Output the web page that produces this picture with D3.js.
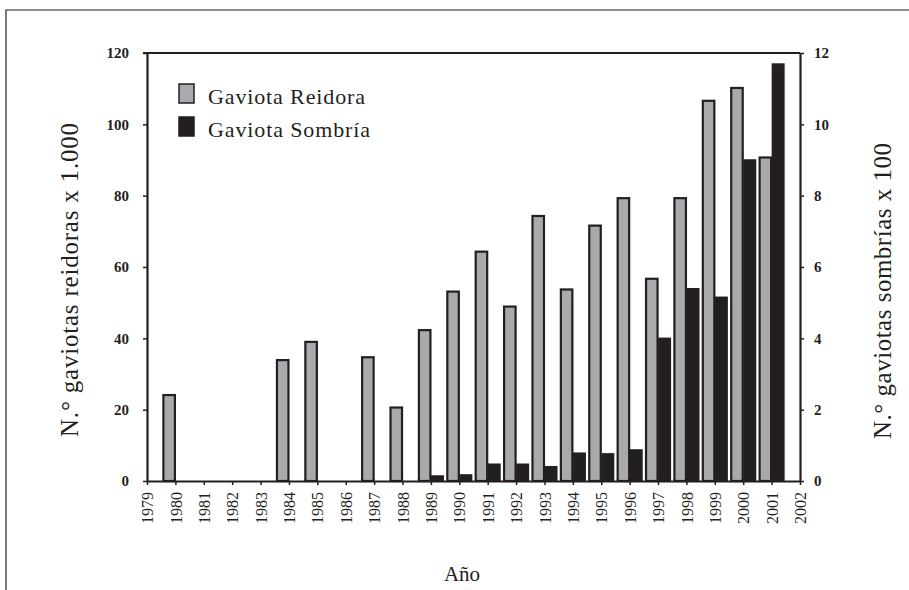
<!DOCTYPE html>
<html>
<head>
<meta charset="utf-8">
<script src="https://cdn.jsdelivr.net/npm/d3@7"></script>
<style>
  body { margin: 0; background: #fff; }
  .axis path, .axis line { stroke: #231f20; }
</style>
</head>
<body>
<div id="vis"></div>
<script>
// data
const years = d3.range(1979, 2003); // tick labels 1979..2002
const reidoraYears = [1980, 1984, 1985, 1987, 1988, 1989, 1990, 1991, 1992, 1993, 1994, 1995, 1996, 1997, 1998, 1999, 2000, 2001];
const reidoraValues = [24.1, 33.9, 39, 34.7, 20.6, 42.3, 53.1, 64.3, 48.9, 74.3, 53.7, 71.6, 79.3, 56.7, 79.3, 106.6, 110.2, 90.7];
const sombriaYears = [1989, 1990, 1991, 1992, 1993, 1994, 1995, 1996, 1997, 1998, 1999, 2000, 2001];
const sombriaValues = [0.14, 0.17, 0.47, 0.47, 0.4, 0.78, 0.76, 0.87, 4.0, 5.39, 5.15, 9.0, 11.69];
const leftTicks = [0, 20, 40, 60, 80, 100, 120];
const rightTicks = [0, 2, 4, 6, 8, 10, 12];

const W = 909, H = 590;
const plot = {left: 147, right: 800, top: 53, bottom: 481};
const serif = '"Liberation Serif", "DejaVu Serif", serif';
const ink = '#231f20';

const svg = d3.select('#vis')
    .append('svg')
    .attr('width', W)
    .attr('height', H)
    .style('font-family', serif);

// outer frame (top and left only visible)
svg.append('path')
    .attr('d', `M6,${H} L6,10 L${W},10`)
    .attr('fill', 'none')
    .attr('stroke', ink)
    .attr('stroke-width', 1.2);

const xScale = d3.scaleLinear()
    .domain([1979, 2002])
    .range([plot.left, plot.right]);

const yLeft = d3.scaleLinear()
    .domain([0, 120])
    .range([plot.bottom, plot.top]);

const yRight = d3.scaleLinear()
    .domain([0, 12])
    .range([plot.bottom, plot.top]);

const barW = 11.5;

// gray bars, left of the year tick
svg.selectAll('.reidora')
    .data(reidoraYears.map((y, i) => ({year: y, v: reidoraValues[i]})))
    .join('rect')
    .attr('class', 'reidora')
    .attr('x', d => xScale(d.year) - barW - 0.5)
    .attr('y', d => yLeft(d.v))
    .attr('width', barW)
    .attr('height', d => yLeft(0) - yLeft(d.v))
    .attr('fill', '#a9aaad')
    .attr('stroke', ink)
    .attr('stroke-width', 2.2);

// black bars, right of the year tick
svg.selectAll('.sombria')
    .data(sombriaYears.map((y, i) => ({year: y, v: sombriaValues[i]})))
    .join('rect')
    .attr('class', 'sombria')
    .attr('x', d => xScale(d.year) + 0.8)
    .attr('y', d => yRight(d.v))
    .attr('width', barW)
    .attr('height', d => yRight(0) - yRight(d.v))
    .attr('fill', ink)
    .attr('stroke', ink)
    .attr('stroke-width', 1.5);

// top border line
svg.append('line')
    .attr('x1', plot.left - 4).attr('x2', plot.right)
    .attr('y1', plot.top).attr('y2', plot.top)
    .attr('stroke', ink)
    .attr('stroke-width', 2);

const yAxisL = d3.axisLeft(yLeft)
    .tickValues(leftTicks)
    .tickSize(4)
    .tickSizeOuter(0)
    .tickPadding(14);
const gL = svg.append('g')
    .attr('class', 'axis')
    .attr('transform', `translate(${plot.left},0)`)
    .call(yAxisL);

const yAxisR = d3.axisRight(yRight)
    .tickValues(rightTicks)
    .tickSize(4)
    .tickSizeOuter(0)
    .tickPadding(10);
const gR = svg.append('g')
    .attr('class', 'axis')
    .attr('transform', `translate(${plot.right},0)`)
    .call(yAxisR);

const xAxis = d3.axisBottom(xScale)
    .tickValues(years)
    .tickFormat(d3.format('d'))
    .tickSize(4)
    .tickSizeOuter(0);
const gX = svg.append('g')
    .attr('class', 'axis')
    .attr('transform', `translate(0,${plot.bottom})`)
    .call(xAxis);

[gL, gR, gX].forEach(g => {
    g.attr('font-family', serif);
    g.select('.domain').attr('stroke-width', 2.2);
    g.selectAll('.tick line').attr('stroke-width', 1.5);
    g.selectAll('text').attr('fill', ink);
});

gL.selectAll('text')
    .attr('font-size', 15)
    .attr('font-weight', 'bold');
gR.selectAll('text')
    .attr('font-size', 15)
    .attr('font-weight', 'bold');

gX.selectAll('text')
    .attr('font-size', 16)
    .attr('transform', 'rotate(-90)')
    .attr('text-anchor', 'end')
    .attr('x', -11)
    .attr('y', 0)
    .attr('dy', '0.35em');

// axis titles (textLength matches the wider original typeface)
svg.append('text')
    .attr('transform', 'rotate(-90)')
    .attr('x', -280)
    .attr('y', 78)
    .attr('fill', ink)
    .attr('font-family', serif)
    .attr('font-size', 25)
    .attr('textLength', 314)
    .attr('lengthAdjust', 'spacing')
    .style('text-anchor', 'middle')
    .text('N.° gaviotas reidoras x 1.000');

svg.append('text')
    .attr('transform', 'rotate(-90)')
    .attr('x', -291)
    .attr('y', 891)
    .attr('fill', ink)
    .attr('font-family', serif)
    .attr('font-size', 25)
    .attr('textLength', 296)
    .attr('lengthAdjust', 'spacing')
    .style('text-anchor', 'middle')
    .text('N.° gaviotas sombrías x 100');

svg.append('text')
    .attr('x', 462)
    .attr('y', 581)
    .attr('fill', ink)
    .attr('font-family', serif)
    .attr('font-size', 21)
    .style('text-anchor', 'middle')
    .text('Año');

// legend
const legendItems = [
    {label: 'Gaviota Reidora', fill: '#a9aaad', len: 157},
    {label: 'Gaviota Sombría', fill: ink, len: 162}
];
const legend = svg.selectAll('.legend')
    .data(legendItems)
    .join('g')
    .attr('class', 'legend')
    .attr('transform', (d, i) => `translate(179,${84 + i * 33})`);

legend.append('rect')
    .attr('width', 15)
    .attr('height', 19)
    .attr('fill', d => d.fill)
    .attr('stroke', ink)
    .attr('stroke-width', 1.5);

legend.append('text')
    .attr('x', 29)
    .attr('y', 20)
    .attr('fill', ink)
    .attr('font-family', serif)
    .attr('font-size', 22)
    .attr('textLength', d => d.len)
    .attr('lengthAdjust', 'spacing')
    .text(d => d.label);
</script>
</body>
</html>
